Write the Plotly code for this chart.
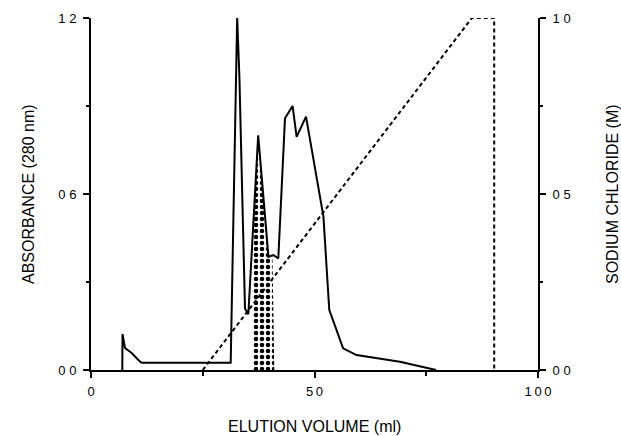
import plotly.graph_objects as go

# Absorbance (280 nm) elution profile
volume_ml = [7.0, 7.05, 7.6, 9.1, 10.6, 11.3, 31.25, 32.7, 33.2, 34.45, 35.2, 37.4,
             39.7, 40.8, 41.9, 43.4, 45.1, 46.0, 48.1, 50.9, 52.0, 53.3, 56.4,
             59.4, 69.1, 77.2]
absorbance = [0.0, 0.123, 0.075, 0.058, 0.034, 0.025, 0.025, 1.2, 1.0, 0.21, 0.19, 0.80,
              0.386, 0.392, 0.38, 0.858, 0.90, 0.795, 0.864, 0.614, 0.523, 0.205, 0.074,
              0.051, 0.028, 0.0]

# Shaded (pooled) fraction under the second peak
pool_ml = [36.1, 36.1, 37.4, 39.7, 40.6, 41.0]
pool_abs = [0.0, 0.44, 0.80, 0.386, 0.39, 0.0]

# NaCl gradient (right axis)
nacl_ml = [25.0, 85.2, 89.6, 90.2, 90.2]
nacl_m = [0.0, 1.0, 1.0, 1.0, 0.0]

x_ticks = [0, 50, 100]
x_ticktext = ["0", "5\u20090", "1\u20090\u20090"]
y_ticks = [0.0, 0.6, 1.2]
y_ticktext = ["0 0", "0 6", "1 2"]
y2_ticks = [0.0, 0.5, 1.0]
y2_ticktext = ["0 0", "0 5", "1 0"]

FONT = "Liberation Sans, Arial, sans-serif"

fig = go.Figure()
fig.add_trace(go.Scatter(
    x=pool_ml, y=pool_abs, mode="lines", fill="toself",
    fillcolor="white",
    fillpattern=dict(shape=".", fgcolor="black", fgopacity=1, bgcolor="white",
                     size=6, solidity=0.45),
    line=dict(width=0), showlegend=False, hoverinfo="skip"))
fig.add_trace(go.Scatter(
    x=volume_ml, y=absorbance, mode="lines",
    line=dict(color="black", width=2), showlegend=False))
fig.add_trace(go.Scatter(
    x=nacl_ml, y=nacl_m, mode="lines", yaxis="y2",
    line=dict(color="black", width=2, dash="4px,3px"), showlegend=False))

axis_common = dict(showline=True, linecolor="black", linewidth=2, showgrid=False,
                   zeroline=False, ticks="outside", ticklen=6, tickwidth=2,
                   tickcolor="black", tickfont=dict(family=FONT, size=13, color="black"))

fig.update_layout(
    width=621, height=436,
    margin=dict(l=91, r=83, t=18, b=66),
    paper_bgcolor="white", plot_bgcolor="white",
    xaxis=dict(range=[0, 100], tickvals=x_ticks, ticktext=x_ticktext,
               minor=dict(tickvals=[25, 75], ticks="outside", ticklen=4,
                          tickwidth=2, tickcolor="black"),
               ticklabelstandoff=2, **axis_common),
    yaxis=dict(range=[0, 1.2], tickvals=y_ticks, ticktext=y_ticktext,
               minor=dict(tickvals=[0.3, 0.9], ticks="outside", ticklen=3,
                          tickwidth=2, tickcolor="black"),
               ticklabelstandoff=4, **axis_common),
    yaxis2=dict(range=[0, 1.0], overlaying="y", side="right",
                tickvals=y2_ticks, ticktext=y2_ticktext,
                minor=dict(tickvals=[0.25, 0.75], ticks="outside", ticklen=3,
                           tickwidth=2, tickcolor="black"),
                ticklabelstandoff=4, **axis_common),
    annotations=[
        dict(text="ABSORBANCE (280 nm)", xref="paper", yref="paper", x=0, y=0.5,
             xanchor="center", yanchor="middle", xshift=-63, textangle=-90,
             showarrow=False, font=dict(family=FONT, size=16, color="black")),
        dict(text="SODIUM CHLORIDE (M)", xref="paper", yref="paper", x=1, y=0.5,
             xanchor="center", yanchor="middle", xshift=74, textangle=-90,
             showarrow=False, font=dict(family=FONT, size=16, color="black")),
        dict(text="ELUTION VOLUME (ml)", xref="paper", yref="paper", x=0.5, y=0,
             xanchor="center", yanchor="middle", yshift=-56,
             showarrow=False, font=dict(family=FONT, size=16, color="black")),
    ],
)

fig.write_html("out.html", config={"displayModeBar": False},
               post_script="document.body.style.margin='0';document.body.style.overflow='hidden';")
